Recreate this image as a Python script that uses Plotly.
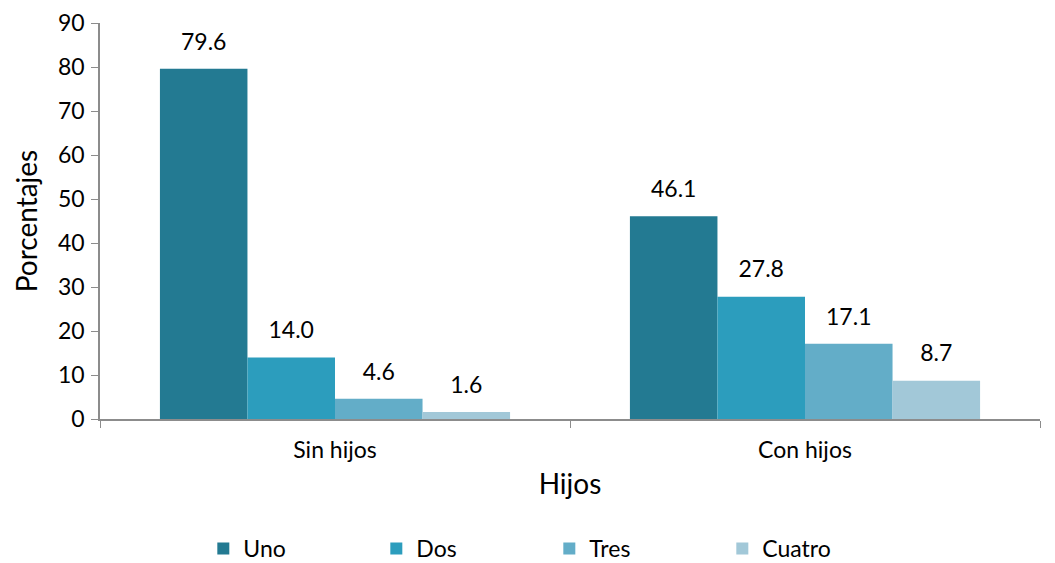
import plotly.graph_objects as go

categorias = ["Sin hijos", "Con hijos"]
series = ["Uno", "Dos", "Tres", "Cuatro"]
uno = [79.6, 46.1]
dos = [14.0, 27.8]
tres = [4.6, 17.1]
cuatro = [1.6, 8.7]

valores = [uno, dos, tres, cuatro]
colores = ["#237a92", "#2c9dbd", "#63adc8", "#a2c8d8"]

FONT = "Lato, 'Open Sans', sans-serif"

fig = go.Figure()
for nombre, vals, color in zip(series, valores, colores):
    fig.add_trace(go.Bar(
        x=categorias, y=vals, name=nombre, offsetgroup=nombre,
        marker=dict(color=color, line=dict(width=0)),
    ))

# etiquetas de datos, un poco separadas de las barras
for nombre, vals in zip(series, valores):
    fig.add_trace(go.Scatter(
        x=categorias, y=vals, offsetgroup=nombre, mode="markers+text",
        text=[f"{v:.1f}" for v in vals], textposition="top center",
        textfont=dict(size=23, color="#000000"),
        marker=dict(size=20, opacity=0), showlegend=False, hoverinfo="skip",
        cliponaxis=False,
    ))

fig.update_layout(
    width=1055, height=563,
    paper_bgcolor="white", plot_bgcolor="white",
    font=dict(family=FONT, color="#000000"),
    barmode="group", bargap=0.255, bargroupgap=0,
    scattermode="group", scattergap=0.255,
    margin=dict(l=92, r=23, t=15, b=152, autoexpand=False),
    showlegend=True,
    legend=dict(orientation="h", x=0.478, xanchor="center", y=-0.327, yanchor="middle",
                font=dict(size=23), entrywidth=128, itemwidth=30, traceorder="normal"),
)
fig.update_xaxes(
    showline=True, linecolor="#8c8c8c", linewidth=1.5,
    ticks="outside", tickson="boundaries", ticklen=7, tickcolor="#8c8c8c",
    tickfont=dict(size=23), showgrid=False, ticklabelstandoff=10,
    title=dict(text="Hijos", font=dict(size=28), standoff=12),
)
fig.update_yaxes(
    range=[0, 90], dtick=10, showline=True, linecolor="#8c8c8c", linewidth=1.5,
    ticks="outside", ticklen=7, tickcolor="#8c8c8c", showgrid=False, zeroline=False,
    tickfont=dict(size=23), ticklabelstandoff=2, ticklabeloverflow="allow",
    title=dict(text="Porcentajes", font=dict(size=28), standoff=12),
)

fig.write_html("out.html")
